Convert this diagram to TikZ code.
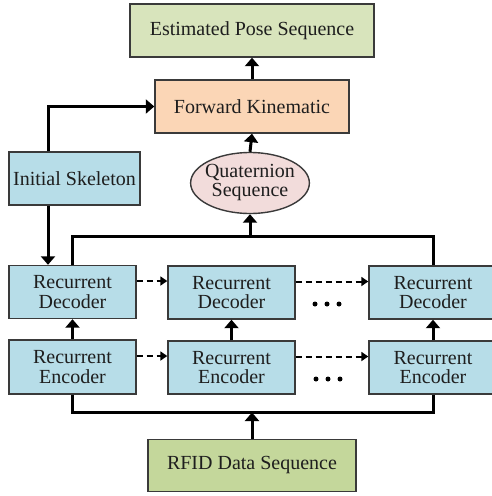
\documentclass[tikz,border=0pt]{standalone}
\usepackage{fontspec}
\setmainfont{Liberation Serif}
\usetikzlibrary{arrows.meta,shapes.geometric}
\definecolor{poseGreen}{HTML}{D8E4BC}
\definecolor{fkPeach}{HTML}{FBD6B6}
\definecolor{cellBlue}{HTML}{B7DDE8}
\definecolor{quatPink}{HTML}{F2DCDB}
\definecolor{rfidGreen}{HTML}{C4D79B}
\definecolor{edgeGray}{HTML}{3A3A3A}
\definecolor{inkText}{HTML}{1E1E1E}
\tikzset{
  boxbase/.style={draw=edgeGray, line width=1.4pt, rectangle, inner sep=0pt,
    align=center, text=inkText, font=\fontsize{20}{19.5}\selectfont},
  posebox/.style={boxbase, fill=poseGreen, minimum width=244pt, minimum height=53pt},
  fkbox/.style={boxbase, fill=fkPeach, minimum width=194pt, minimum height=53pt},
  skelbox/.style={boxbase, fill=cellBlue, minimum width=131pt, minimum height=53pt},
  cellbox/.style={boxbase, fill=cellBlue, minimum width=127pt, minimum height=53pt},
  rfidbox/.style={boxbase, fill=rfidGreen, minimum width=208pt, minimum height=52pt},
  quatnode/.style={boxbase, ellipse, fill=quatPink, inner xsep=-3pt,
    minimum width=118pt, minimum height=61pt, font=\fontsize{20}{19}\selectfont},
  flow/.style={line width=3pt, -{Triangle[width=14pt,length=8.5pt]}},
  bus/.style={line width=3pt},
  hop/.style={line width=2pt, dash pattern=on 6pt off 4pt, -{Triangle[width=9pt,length=7pt]}},
  dot/.style={circle, fill=black, inner sep=0pt, minimum size=5pt},
}
\begin{document}
\begin{tikzpicture}[x=1pt,y=-1pt]
  \useasboundingbox (0,0) rectangle (492,496);
  \clip (0,0) rectangle (492,496);

  % top of the pipeline
  \node[posebox] (pose) at (252,30.5) {Estimated Pose Sequence};
  \node[fkbox] (fk) at (252,106.5) {Forward Kinematic};
  \node[skelbox] (skel) at (74.5,178.5) {Initial Skeleton};
  \node[quatnode] (quat) at (250,183) {Quaternion\\Sequence};

  % recurrent cells
  \node[cellbox] (dec1) at (72.5,292) {Recurrent\\Decoder};
  \node[cellbox] (dec2) at (231.5,292.5) {Recurrent\\Decoder};
  \node[cellbox, minimum width=128pt] (dec3) at (433,292.5) {Recurrent\\Decoder};
  \node[cellbox, minimum height=54pt] (enc1) at (72.5,367) {Recurrent\\Encoder};
  \node[cellbox] (enc2) at (231.5,367.5) {Recurrent\\Encoder};
  \node[cellbox, minimum width=128pt] (enc3) at (433,367.5) {Recurrent\\Encoder};

  \node[rfidbox] (rfid) at (252,465.5) {RFID Data Sequence};

  % ellipsis marks between the second and last cells
  \node[dot] (d1) at (315,304) {};
  \node[dot] (d2) at (327,304) {};
  \node[dot] (d3) at (339,304) {};
  \node[dot] (e1) at (316,379) {};
  \node[dot] (e2) at (328,379) {};
  \node[dot] (e3) at (340,379) {};

  % buses
  \coordinate (topbus) at (250,236);
  \coordinate (botbus) at (252,412.5);
  \coordinate (skelx) at (48,0);

  \draw[bus] (dec1.north) |- (topbus) -| (dec3.north);
  \draw[flow] (topbus) -- (quat.south);
  \draw[flow] (quat.north) -- (fk.south);
  \draw[flow] (fk.north) -- (pose.south);

  \draw[flow] (skel.north -| skelx) |- (fk.west);
  \draw[flow] (skel.south -| skelx) -- (dec1.north -| skelx);

  \draw[bus] (enc1.south) |- (botbus) -| (enc3.south);
  \draw[flow] (rfid.north) -- (botbus);

  \draw[flow] (enc1.north) -- (dec1.south);
  \draw[flow] (enc2.north) -- (dec2.south);
  \draw[flow] (enc3.north) -- (dec3.south);

  % recurrent state hand-off
  \draw[hop] ([yshift=11pt]dec1.east) -- ([yshift=11pt]dec1.east -| dec2.west);
  \draw[hop] ([yshift=11pt]dec2.east) -- ([yshift=11pt]dec2.east -| dec3.west);
  \draw[hop] ([yshift=11pt]enc1.east) -- ([yshift=11pt]enc1.east -| enc2.west);
  \draw[hop] ([yshift=11pt]enc2.east) -- ([yshift=11pt]enc2.east -| enc3.west);
\end{tikzpicture}
\end{document}
